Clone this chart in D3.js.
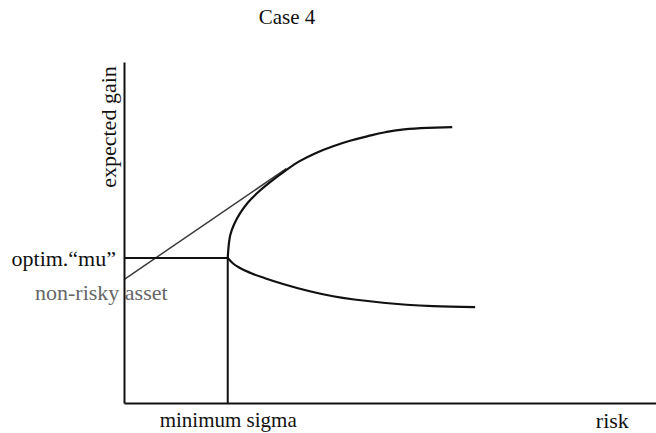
<!DOCTYPE html>
<html>
<head>
<meta charset="utf-8">
<script src="https://cdn.jsdelivr.net/npm/d3@7"></script>
<style>
body { margin: 0; background: #fff; }
svg text { font-family: "Liberation Serif", "Times New Roman", serif; }
</style>
</head>
<body>
<svg width="656" height="433"></svg>
<script>
// efficient frontier (risk / expected gain, arbitrary units)
var upperRisk = [1.95, 1.97, 2.00, 2.07, 2.18, 2.33, 2.52, 2.74, 3.03, 3.31, 3.59, 3.93, 4.25, 4.57, 4.91, 5.19, 5.70, 6.17];
var upperGain = [4.25, 4.65, 4.94, 5.24, 5.56, 5.88, 6.18, 6.47, 6.81, 7.10, 7.32, 7.53, 7.69, 7.82, 7.94, 8.01, 8.07, 8.09];
var lowerRisk = [1.95, 2.05, 2.18, 2.37, 2.65, 2.99, 3.93, 4.87, 5.81, 6.60];
var lowerGain = [4.25, 4.09, 3.96, 3.82, 3.66, 3.49, 3.13, 2.94, 2.84, 2.81];

// capital market line
var lineRisk = [0, 3.05];
var lineGain = [3.62, 6.87];

var minSigma = 1.95;
var optimMu = 4.25;
var riskLabelAt = 9.17;
var xTickLabels = ["minimum sigma", "risk"];
var yTickLabels = ["optim.\u201cmu\u201d"];

function main(){
    var svg = d3.select("svg"),
        margin = {top: 62, right: 0, bottom: 30, left: 124},
        width = +svg.attr("width") - margin.left - margin.right,
        height = +svg.attr("height") - margin.top - margin.bottom;

    var g = svg.append("g").attr("transform", "translate(" + margin.left + "," + margin.top + ")");

    var x = d3.scaleLinear().domain([0, 10]).range([0, width]);
    var y = d3.scaleLinear().domain([0, 10]).range([height, 0]);

    var zip = function(a, b){ return a.map(function(d, i){ return [d, b[i]]; }); };

    var line = d3.line()
        .x(function(d){ return x(d[0]); })
        .y(function(d){ return y(d[1]); });

    // upper branch is steep at the vertex, so interpolate it along y
    var upperCurve = d3.line()
        .curve(d3.curveMonotoneY)
        .x(function(d){ return x(d[0]); })
        .y(function(d){ return y(d[1]); });

    var lowerCurve = d3.line()
        .curve(d3.curveMonotoneX)
        .x(function(d){ return x(d[0]); })
        .y(function(d){ return y(d[1]); });

    // tangent line from the non-risky asset
    g.append("path")
        .attr("d", line(zip(lineRisk, lineGain)))
        .attr("fill", "none")
        .attr("stroke", "#3a3a3a")
        .attr("stroke-width", 1.5);

    // optimum guides
    g.append("path")
        .attr("d", line([[0, optimMu], [minSigma, optimMu], [minSigma, 0]]))
        .attr("fill", "none")
        .attr("stroke", "#111")
        .attr("stroke-width", 2);

    g.append("path")
        .attr("d", upperCurve(zip(upperRisk, upperGain)))
        .attr("fill", "none")
        .attr("stroke", "#111")
        .attr("stroke-width", 2.2);

    g.append("path")
        .attr("d", lowerCurve(zip(lowerRisk, lowerGain)))
        .attr("fill", "none")
        .attr("stroke", "#111")
        .attr("stroke-width", 2.2);

    // non-risky asset label sits under the axis line
    g.append("text")
        .attr("x", -89)
        .attr("y", y(lineGain[0]) + 20)
        .attr("fill", "#666")
        .style("font-size", "22px")
        .text("non-risky asset");

    var xAxis = g.append("g")
        .attr("transform", "translate(0," + height + ")")
        .call(d3.axisBottom(x)
            .tickValues([minSigma, riskLabelAt])
            .tickFormat(function(d, i){ return xTickLabels[i]; })
            .tickSize(0)
            .tickSizeOuter(0)
            .tickPadding(9));

    g.append("g")
        .call(d3.axisLeft(y)
            .tickValues([optimMu])
            .tickFormat(function(d, i){ return yTickLabels[i]; })
            .tickSize(0)
            .tickSizeOuter(0)
            .tickPadding(8));

    svg.selectAll(".domain").attr("stroke", "#111").attr("stroke-width", 2);
    svg.selectAll(".tick text")
        .attr("fill", "#111")
        .style("font-family", "'Liberation Serif', serif")
        .style("font-size", "22px");
    xAxis.select(".tick text").style("font-size", "21px");

    // axis titles
    svg.append("text")
        .attr("transform", "translate(116," + 127 + ") rotate(-90)")
        .style("text-anchor", "middle")
        .style("font-size", "22px")
        .attr("fill", "#111")
        .text("expected gain");

    svg.append("text")
        .attr("x", 287)
        .attr("y", 24)
        .style("text-anchor", "middle")
        .style("font-size", "21px")
        .attr("fill", "#111")
        .text("Case 4");
}

main();
</script>
</body>
</html>
